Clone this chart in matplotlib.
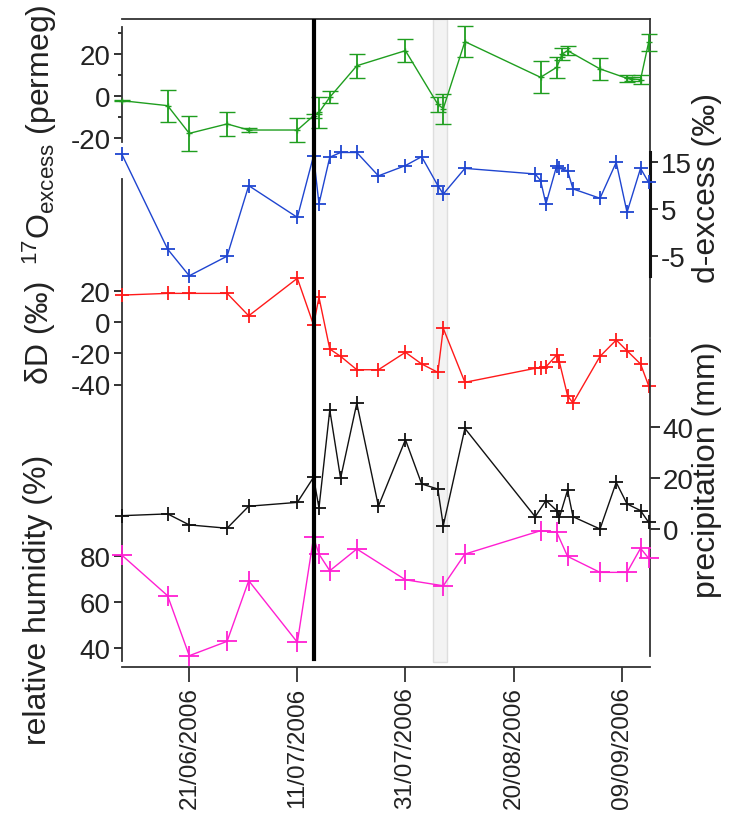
import matplotlib
matplotlib.use('Agg')
import matplotlib.pyplot as plt
import pandas as pd

plt.rcParams['font.family'] = ['Liberation Sans', 'DejaVu Sans']
plt.rcParams['mathtext.fontset'] = 'custom'
plt.rcParams['mathtext.rm'] = 'Liberation Sans'
plt.rcParams['mathtext.it'] = 'Liberation Sans:italic'
plt.rcParams['axes.unicode_minus'] = False

# ---- data -----------------------------------------------------------------
o17_dates = ['2006-06-08 12:00', '2006-06-17', '2006-06-21', '2006-06-28', '2006-07-02',
             '2006-07-11', '2006-07-14', '2006-07-15', '2006-07-17', '2006-07-22',
             '2006-07-31', '2006-08-06', '2006-08-07', '2006-08-11', '2006-08-25',
             '2006-08-28', '2006-08-29', '2006-08-30', '2006-09-05', '2006-09-10',
             '2006-09-11', '2006-09-12 12:00', '2006-09-14']
o17_values = [-2.2, -4.6, -17.8, -13.3, -16.2, -16.2, -9.4, -7.8, -0.6, 14.4,
              21.6, -4.0, -6.0, 25.9, 8.9, 13.7, 20.0, 21.6, 12.9, 8.4,
              8.1, 7.8, 25.6]
o17_errors = [0.3, 7.6, 8.5, 5.6, 1.0, 5.6, 1.0, 7.5, 2.9, 5.6,
              5.6, 3.4, 7.1, 7.5, 7.7, 4.9, 3.0, 2.0, 5.3, 1.5,
              1.0, 2.0, 4.0]

dex_dates = ['2006-06-08 12:00', '2006-06-17', '2006-06-21', '2006-06-28', '2006-07-02',
             '2006-07-11', '2006-07-14', '2006-07-15', '2006-07-17', '2006-07-19',
             '2006-07-22', '2006-07-26', '2006-07-31', '2006-08-03', '2006-08-06',
             '2006-08-07', '2006-08-11', '2006-08-24', '2006-08-25', '2006-08-26',
             '2006-08-28', '2006-08-28 12:00', '2006-08-30', '2006-08-31', '2006-09-05',
             '2006-09-08', '2006-09-10', '2006-09-12 12:00', '2006-09-14']
dex_values = [16.8, -3.6, -9.3, -5.1, 10.0, 3.2, 16.4, 6.1, 16.1, 17.1,
              17.1, 12.1, 14.3, 16.2, 10.0, 8.2, 13.7, 12.5, 11.1, 6.1,
              14.3, 13.7, 13.2, 9.3, 7.3, 15.0, 4.3, 13.7, 10.7]

dD_dates = ['2006-06-08 12:00', '2006-06-17', '2006-06-21', '2006-06-28', '2006-07-02',
            '2006-07-11', '2006-07-14', '2006-07-15', '2006-07-17', '2006-07-19',
            '2006-07-22', '2006-07-26', '2006-07-31', '2006-08-03', '2006-08-06',
            '2006-08-07', '2006-08-11', '2006-08-24', '2006-08-25', '2006-08-26',
            '2006-08-28', '2006-08-28 12:00', '2006-08-30', '2006-08-31', '2006-09-05',
            '2006-09-08', '2006-09-10', '2006-09-12 12:00', '2006-09-14']
dD_values = [17.5, 18.6, 18.6, 18.6, 4.2, 28.3, -1.7, 16.1, -17.2, -21.9,
             -30.5, -30.5, -19.3, -26.8, -32.2, -3.9, -38.6, -29.6, -29.2, -28.6,
             -21.0, -25.7, -47.2, -51.9, -21.9, -11.4, -18.3, -26.8, -40.8]

precip_dates = ['2006-06-08 12:00', '2006-06-17', '2006-06-21', '2006-06-28', '2006-07-02',
                '2006-07-11', '2006-07-14', '2006-07-15', '2006-07-17', '2006-07-19',
                '2006-07-22', '2006-07-26', '2006-07-31', '2006-08-03', '2006-08-06',
                '2006-08-07', '2006-08-11', '2006-08-24', '2006-08-26', '2006-08-28',
                '2006-08-28 12:00', '2006-08-30', '2006-08-31', '2006-09-05', '2006-09-08',
                '2006-09-10', '2006-09-12 12:00', '2006-09-14']
precip_values = [5.2, 5.9, 1.6, 0.3, 8.9, 10.4, 20.2, 8.2, 46.5, 19.8,
                 49.1, 8.9, 34.9, 17.6, 15.6, 1.3, 39.3, 4.8, 11.1, 7.2,
                 4.6, 15.2, 4.8, 0.0, 18.2, 9.8, 7.2, 2.6]

rh_dates = ['2006-06-08 12:00', '2006-06-17', '2006-06-21', '2006-06-28', '2006-07-02',
            '2006-07-11', '2006-07-14', '2006-07-15', '2006-07-17', '2006-07-22',
            '2006-07-31', '2006-08-07', '2006-08-11', '2006-08-25', '2006-08-28',
            '2006-08-30', '2006-09-05', '2006-09-10', '2006-09-12 12:00', '2006-09-14']
rh_values = [80.3, 62.7, 36.8, 43.0, 69.2, 42.6, 87.9, 80.7, 73.5, 82.9,
             69.6, 67.0, 80.7, 90.8, 90.1, 79.7, 72.8, 72.8, 83.2, 78.9]

event_date = '2006-07-14'
band_start, band_end = '2006-08-05 03:00', '2006-08-07 17:00'
date_ticks = ['2006-06-21', '2006-07-11', '2006-07-31', '2006-08-20', '2006-09-09']
date_tick_labels = ['21/06/2006', '11/07/2006', '31/07/2006', '20/08/2006', '09/09/2006']
x_range = ['2006-06-08 12:00', '2006-09-14 06:00']


def dt(seq):
    if isinstance(seq, str):
        return pd.Timestamp(seq)
    return pd.to_datetime(seq, format='mixed')


# ---- figure ---------------------------------------------------------------
W, H = 743, 828
fig = plt.figure(figsize=(W / 100, H / 100), dpi=100)
left_px, right_px, top_px, bot_px = 121.7, 650.0, 20.0, 668.0
rect = [left_px / W, (H - bot_px) / H, (right_px - left_px) / W, (bot_px - top_px) / H]

TICK_FS = 20
DATE_FS = 17.5
LABEL_FS = 23
frame_col = '#333333'

ax0 = fig.add_axes(rect)
ax0.set_xlim(dt(x_range[0]), dt(x_range[1]))
ax0.set_ylim(0, 1)
ax0.set_yticks([])
for s in ('left', 'right'):
    ax0.spines[s].set_visible(False)
ax0.spines['top'].set_color(frame_col)
ax0.spines['bottom'].set_color(frame_col)
ax0.spines['top'].set_linewidth(1.3)
ax0.spines['bottom'].set_linewidth(1.3)
ax0.set_xticks(dt(date_ticks))
ax0.set_xticklabels(date_tick_labels, rotation=90, fontsize=DATE_FS, color='#222222')
ax0.tick_params(axis='x', length=11, width=1.3, color=frame_col, pad=3)
ax0.axvspan(dt(band_start), dt(band_end), ymin=0.008, ymax=1.0,
            facecolor='#f3f3f3', edgecolor='#dedede', linewidth=1.0, zorder=0)


def pixel_ylim(v0_px, px_per_unit):
    return ((v0_px - bot_px) / px_per_unit, (v0_px - top_px) / px_per_unit)


def layer(ylim, side):
    ax = fig.add_axes(rect, sharex=ax0)
    ax.patch.set_visible(False)
    for s in ax.spines.values():
        s.set_visible(False)
    ax.set_ylim(*ylim)
    ax.yaxis.set_ticks_position(side)
    ax.tick_params(axis='x', which='both', bottom=False, top=False,
                   labelbottom=False, labeltop=False)
    ax.tick_params(axis='y', which='both', labelsize=TICK_FS, colors='#222222',
                   width=1.3, length=6, pad=2)
    ax.tick_params(axis='y', which='minor', length=3)
    return ax


def spine(ax, side, lo, hi, lw=1.3, color=frame_col):
    sp = ax.spines[side]
    sp.set_visible(True)
    sp.set_bounds(lo, hi)
    sp.set_linewidth(lw)
    sp.set_color(color)


# 17O excess (left, top)
ax_o = layer(pixel_ylim(97.0, 2.1), 'left')
spine(ax_o, 'left', -22, 33)
spine(ax_o, 'right', -114.8, 36.7)
ax_o.set_yticks([-20, 0, 20])
ax_o.set_yticks([-10, 10, 30], minor=True)
ax_o.errorbar(dt(o17_dates), o17_values, yerr=o17_errors, color='#1f9e1f', lw=1.0,
              marker='+', ms=5, mew=1.0, elinewidth=1.3, capsize=6, capthick=1.3,
              clip_on=False, zorder=3)

# d-excess (right)
ax_d = layer(pixel_ylim(233.35, 4.67), 'right')
spine(ax_d, 'right', -9.3, 17.2, lw=2.2, color='#111111')
ax_d.set_yticks([-5, 5, 15])
ax_d.plot(dt(dex_dates), dex_values, color='#1f45d0', lw=1.0, marker='+', ms=10,
          mew=1.3, clip_on=False, zorder=3)

# dD (left)
ax_h = layer(pixel_ylim(323.3, 1.555), 'left')
spine(ax_h, 'left', (323.3 - 662) / 1.555, (323.3 - 180) / 1.555)
ax_h.set_yticks([-40, -20, 0, 20])
ax_h.plot(dt(dD_dates), dD_values, color='#ff1a1a', lw=1.0, marker='+', ms=10,
          mew=1.3, clip_on=False, zorder=3)

# precipitation (right)
ax_p = layer(pixel_ylim(530.0, 2.56), 'right')
spine(ax_p, 'right', -49.6, 74.2)
ax_p.set_yticks([0, 20, 40])
ax_p.tick_params(axis='y', length=7)
ax_p.plot(dt(precip_dates), precip_values, color='#111111', lw=1.0, marker='+', ms=10,
          mew=1.3, clip_on=False, zorder=3)

# relative humidity (left)
ax_r = layer(pixel_ylim(741.9, 2.315), 'left')
ax_r.set_yticks([40, 60, 80])
ax_r.plot(dt(rh_dates), rh_values, color='#ff1fd2', lw=1.0, marker='+', ms=14,
          mew=1.3, clip_on=False, zorder=3)

# event marker
ax_r.axvline(dt(event_date), ymin=(bot_px - 660) / (bot_px - top_px), ymax=1.0,
             color='black', lw=3.0, zorder=5)


# axis titles
def ylabel(x_px, y_px, text):
    fig.text(x_px / W, 1 - y_px / H, text, rotation=90, ha='center', va='center',
             fontsize=LABEL_FS, color='#222222')


ylabel(40, 135, r'$^{17}\mathrm{O}_{\mathrm{excess}}$ (permeg)')
ylabel(40, 332, 'δD (‰)')
ylabel(38, 600, 'relative humidity (%)')
ylabel(707, 188, 'd-excess (‰)')
ylabel(707, 470, 'precipitation (mm)')

fig.savefig('out.png', dpi=100)
